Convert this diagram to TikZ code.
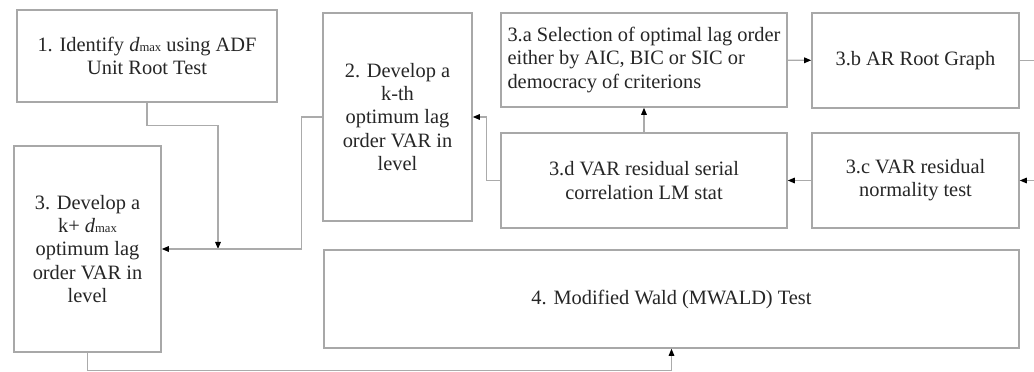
\documentclass[tikz,border=0pt]{standalone}
\usepackage{fontspec}
\setmainfont{Liberation Serif}
\usepackage{xcolor}
\usetikzlibrary{arrows.meta,positioning,calc}
\definecolor{ink}   {HTML}{262626}
\definecolor{frame} {HTML}{A8A8A8}
\definecolor{wire}  {HTML}{ABABAB}
\newcommand{\dmax}{\emph{d}{\fontsize{9}{9}\selectfont max}}

\begin{document}
\begin{tikzpicture}[
  x=0.025cm, y=-0.025cm,
  box/.style={rectangle, draw=frame, line width=1.1pt, fill=white, inner sep=4pt,
              font=\fontsize{14.5}{16.5}\selectfont, text=ink, align=center},
  boxl/.style={box, align=left},
  arr/.style={draw=wire, line width=0.8pt, -{Triangle[length=5pt,width=4pt,color=black]}}
]
\useasboundingbox (0,0) rectangle (1034,372);
\node[box, minimum width=6.5cm, minimum height=2.3cm] (b1) at (147,56) {1. Identify \dmax{} using ADF\\ Unit Root Test};
\node[box, minimum width=3.675cm, minimum height=5.15cm] (b3) at (87.5,249) {3. Develop a\\ k+ \dmax\\ optimum lag\\ order VAR in\\ level};
\node[box, minimum width=3.725cm, minimum height=5.2cm] (b2) at (397.5,117) {2. Develop a\\ k-th\\ optimum lag\\ order VAR in\\ level};
\node[boxl, minimum width=7.15cm, minimum height=2.35cm] (b3a) at (644,60) {3.a Selection of optimal lag order\\ either by AIC, BIC or SIC or\\ democracy of criterions};
\node[box, minimum width=5.175cm, minimum height=2.375cm] (b3b) at (915.5,60.5) {3.b AR Root Graph};
\node[box, minimum width=7.15cm, minimum height=2.375cm] (b3d) at (644,180.5) {3.d VAR residual serial\\ correlation LM stat};
\node[box, minimum width=5.175cm, minimum height=2.375cm] (b3c) at (915.5,180.5) {3.c VAR residual\\ normality test};
\node[box, minimum width=17.375cm, minimum height=2.45cm] (b4) at (671.5,299) {4. Modified Wald (MWALD) Test};
\coordinate (j) at (218,249);
\draw[arr] (b1.south) -- ++(0,23) -| (j);
\draw[arr] (b2.west) -- ++(-21,0) |- (b3.east);
\draw[arr] (b3d.west) -- ++(-14,0) |- (b2.east);
\draw[arr] (b3b.east) -- ++(25,0) |- (b3c.east);
\draw[arr] (b3.south) -- ++(0,18) -| (b4.south);
\foreach \s/\t in {b3d/b3a,b3a/b3b,b3c/b3d}{\draw[arr] (\s) -- (\t);}
\end{tikzpicture}
\end{document}
